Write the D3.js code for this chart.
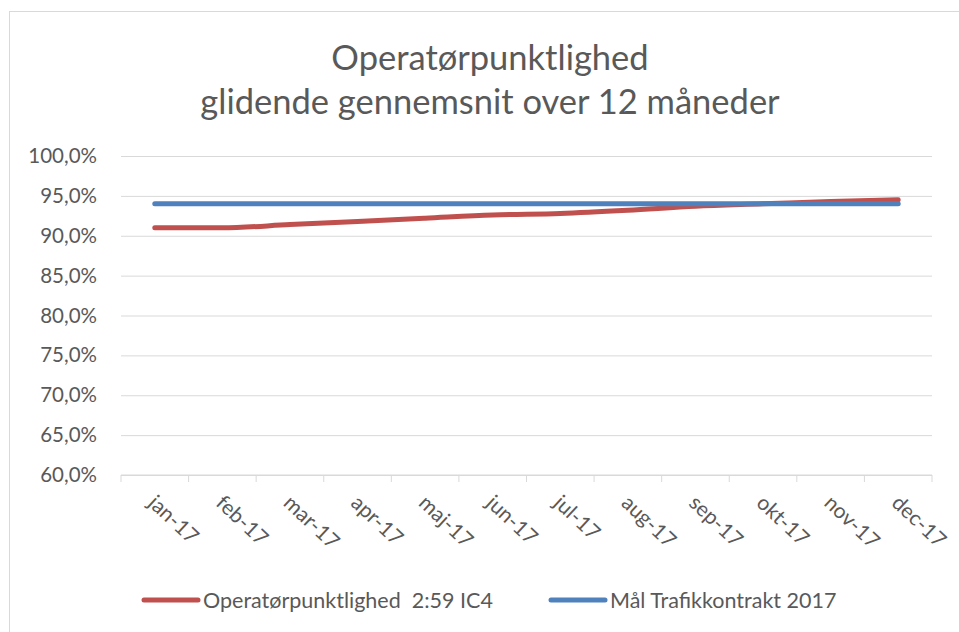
<!DOCTYPE html>
<html>
<head>
<meta charset="utf-8">
<script src="https://cdn.jsdelivr.net/npm/d3@7"></script>
<style>
  body { margin: 0; background: #fff; }
  svg { display: block; font-family: Lato, "Open Sans", sans-serif; }
</style>
</head>
<body>
<div id="chart"></div>
<script>
// data
var months = ["jan-17","feb-17","mar-17","apr-17","maj-17","jun-17","jul-17","aug-17","sep-17","okt-17","nov-17","dec-17"];
var punktlighed = [91.0, 91.0, 91.4, 91.8, 92.2, 92.6, 92.8, 93.2, 93.7, 94.0, 94.3, 94.5];
var maal = [94.0, 94.0, 94.0, 94.0, 94.0, 94.0, 94.0, 94.0, 94.0, 94.0, 94.0, 94.0];
var yTicks = [60, 65, 70, 75, 80, 85, 90, 95, 100];
var seriesNames = ["Operatørpunktlighed  2:59 IC4", "Mål Trafikkontrakt 2017"];
var titleLines = ["Operatørpunktlighed", "glidende gennemsnit over 12 måneder"];

var W = 959, H = 632;
var margin = {top: 156, right: 27, bottom: 157, left: 121};
var width = W - margin.left - margin.right,
    height = H - margin.top - margin.bottom;
var textCol = "#595959", gridCol = "#d9d9d9";
var colors = ["#C0504D", "#4F81BD"];

var svg = d3.select("#chart").append("svg")
  .attr("width", W)
  .attr("height", H);

// chart frame (runs off the right/bottom of the picture)
svg.append("rect")
  .attr("x", 9.5).attr("y", 11.5)
  .attr("width", 980).attr("height", 660)
  .attr("fill", "none")
  .attr("stroke", gridCol);

// title
svg.append("g").selectAll("text")
  .data(titleLines)
  .enter().append("text")
  .attr("x", 490)
  .attr("y", function(d, i) { return 70 + i * 44; })
  .attr("text-anchor", "middle")
  .attr("fill", textCol)
  .style("font-size", "34.5px")
  .text(function(d) { return d; });

var g = svg.append("g").attr("transform", "translate(" + margin.left + "," + margin.top + ")");

var x = d3.scaleBand().domain(months).range([0, width]);
var y = d3.scaleLinear().domain([60, 100]).range([height, 0]);

// gridlines
g.append("g")
  .attr("class", "grid")
  .call(d3.axisLeft(y).tickValues(yTicks).tickSize(-width).tickFormat(""))
  .call(function(s) {
    s.select(".domain").remove();
    s.selectAll("line").attr("stroke", gridCol);
  });

// y labels
g.append("g")
  .call(d3.axisLeft(y).tickValues(yTicks).tickSize(0).tickPadding(24)
    .tickFormat(function(d) { return d3.format(".1f")(d).replace(".", ",") + "%"; }))
  .call(function(s) {
    s.select(".domain").remove();
    s.selectAll("text").attr("fill", textCol).style("font-size", "20.5px").style("font-family", "Lato, sans-serif");
  });

// x axis with ticks at category boundaries
var xAxis = g.append("g").attr("transform", "translate(0," + height + ")");
xAxis.append("line")
  .attr("x1", 0).attr("x2", width)
  .attr("stroke", gridCol);
xAxis.selectAll(".tk")
  .data(d3.range(months.length + 1))
  .enter().append("line")
  .attr("x1", function(i) { return i * x.step(); })
  .attr("x2", function(i) { return i * x.step(); })
  .attr("y1", 0).attr("y2", 7)
  .attr("stroke", gridCol);
xAxis.selectAll(".lbl")
  .data(months)
  .enter().append("text")
  .attr("transform", function(d) {
    return "translate(" + (x(d) + x.bandwidth() / 2 + 3) + ",18) rotate(43)";
  })
  .attr("dy", "0.75em")
  .attr("fill", textCol)
  .style("font-size", "21px")
  .text(function(d) { return d; });

// lines
var line = d3.line()
  .curve(d3.curveMonotoneX)
  .x(function(d, i) { return x(months[i]) + x.bandwidth() / 2; })
  .y(function(d) { return y(d); });

[punktlighed, maal].forEach(function(s, i) {
  g.append("path")
    .datum(s)
    .attr("d", line)
    .attr("fill", "none")
    .attr("stroke", colors[i])
    .attr("stroke-width", 5)
    .attr("stroke-linecap", "round");
});

// legend
var legX = [144, 551];
var leg = svg.append("g").selectAll("g")
  .data(seriesNames)
  .enter().append("g")
  .attr("transform", function(d, i) { return "translate(" + legX[i] + ",600)"; });
leg.append("line")
  .attr("x1", 0).attr("x2", 54)
  .attr("stroke", function(d, i) { return colors[i]; })
  .attr("stroke-width", 5)
  .attr("stroke-linecap", "round");
leg.append("text")
  .attr("x", 59)
  .attr("dy", "0.35em")
  .attr("fill", textCol)
  .style("font-size", "21.5px")
  .style("white-space", "pre")
  .text(function(d) { return d; });
</script>
</body>
</html>
